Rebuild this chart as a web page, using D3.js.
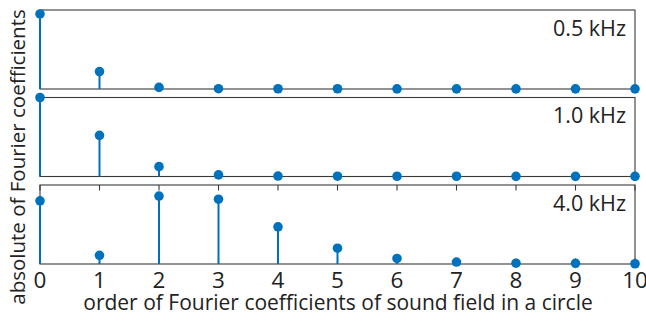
<!DOCTYPE html>
<html>
<head>
<meta charset="utf-8">
<script src="https://cdn.jsdelivr.net/npm/d3@7"></script>
<style>
  body { margin: 0; background: #fff; }
  svg { display: block; font-family: "Open Sans", sans-serif; }
</style>
</head>
<body>
<svg width="646" height="325"></svg>
<script>
// order of the Fourier coefficients
let orders = [0, 1, 2, 3, 4, 5, 6, 7, 8, 9, 10];
let xTicks = [0, 1, 2, 3, 4, 5, 6, 7, 8, 9, 10];

// absolute values (normalised to each panel's y-limit)
let coef05 = [0.95, 0.22, 0.02, 0.004, 0.003, 0.003, 0.002, 0.002, 0.002, 0.002, 0.002];
let coef10 = [1.0, 0.52, 0.125, 0.02, 0.006, 0.004, 0.003, 0.003, 0.002, 0.002, 0.002];
let coef40 = [0.80, 0.11, 0.86, 0.82, 0.47, 0.20, 0.07, 0.025, 0.01, 0.008, 0.003];

let freqLabels = ["0.5 kHz", "1.0 kHz", "4.0 kHz"];

let panels = [
  { label: freqLabels[0], values: coef05, top: 10 },
  { label: freqLabels[1], values: coef10, top: 97.5 },
  { label: freqLabels[2], values: coef40, top: 185, ticks: true }
];

let svg = d3.select("svg");
let blue = "#0072bd";
let axisColor = "#3a3a3a";
let panelH = 79;

let x = d3.scaleLinear().domain([0, 10]).range([40, 635]);

panels.forEach(p => {
  let y = d3.scaleLinear().domain([0, 1]).range([p.top + panelH, p.top]);
  let g = svg.append("g");

  // box
  g.append("rect")
    .attr("x", x(0)).attr("y", p.top)
    .attr("width", x(10) - x(0)).attr("height", panelH)
    .attr("fill", "none")
    .attr("stroke", axisColor)
    .attr("stroke-width", 1.1);

  if (p.ticks) {
    // inward ticks on top and bottom edges
    g.selectAll(".tt").data(xTicks).enter().append("line")
      .attr("x1", d => x(d)).attr("x2", d => x(d))
      .attr("y1", p.top).attr("y2", p.top + 5.5)
      .attr("stroke", axisColor).attr("stroke-width", 1.1);
    g.selectAll(".tb").data(xTicks).enter().append("line")
      .attr("x1", d => x(d)).attr("x2", d => x(d))
      .attr("y1", p.top + panelH).attr("y2", p.top + panelH - 5.5)
      .attr("stroke", axisColor).attr("stroke-width", 1.1);

    g.selectAll(".tl").data(xTicks).enter().append("text")
      .attr("x", d => x(d))
      .attr("y", p.top + panelH + 24)
      .attr("text-anchor", "middle")
      .attr("font-size", 22.5)
      .attr("fill", "#222")
      .text(d => d);
  }

  // stems
  g.selectAll(".stem").data(orders).enter().append("line")
    .attr("x1", d => x(d)).attr("x2", d => x(d))
    .attr("y1", y(0)).attr("y2", (d, i) => y(p.values[i]))
    .attr("stroke", blue).attr("stroke-width", 2);

  // markers
  g.selectAll(".dot").data(orders).enter().append("circle")
    .attr("cx", d => x(d))
    .attr("cy", (d, i) => y(p.values[i]))
    .attr("r", 4.8)
    .attr("fill", blue);

  g.append("text")
    .attr("x", 626)
    .attr("y", p.top + 25.5)
    .attr("text-anchor", "end")
    .attr("font-size", 21.5)
    .attr("fill", "#222")
    .text(p.label);
});

// axis labels
svg.append("text")
  .attr("x", 338).attr("y", 310)
  .attr("text-anchor", "middle")
  .attr("font-size", 21)
  .attr("fill", "#222")
  .text("order of Fourier coefficients of sound field in a circle");

svg.append("text")
  .attr("transform", "translate(25,157) rotate(-90)")
  .attr("text-anchor", "middle")
  .attr("font-size", 20.5)
  .attr("fill", "#222")
  .text("absolute of Fourier coefficients");
</script>
</body>
</html>
